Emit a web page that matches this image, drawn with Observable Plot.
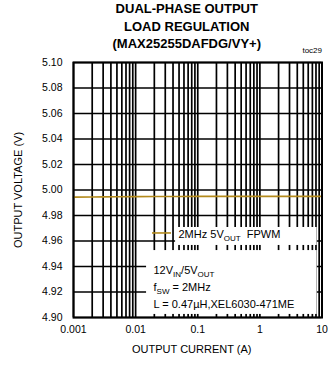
<!DOCTYPE html>
<html>
<head>
<meta charset="utf-8">
<script src="https://cdn.jsdelivr.net/npm/d3@7"></script>
<script src="https://cdn.jsdelivr.net/npm/@observablehq/plot@0.6"></script>
<style>
  html, body { margin: 0; padding: 0; background: #fff; }
  #chart svg { display: block; }
</style>
</head>
<body>
<div id="chart"></div>
<script>
// ---- data ----
const titleLines = ["DUAL-PHASE OUTPUT", "LOAD REGULATION", "(MAX25255DAFDG/VY+)"];
const figureId = "toc29";
const xAxisTitle = "OUTPUT CURRENT (A)";
const yAxisTitle = "OUTPUT VOLTAGE (V)";
const xTickLabels = [0.001, 0.01, 0.1, 1, 10];
const yTickLabels = [4.90, 4.92, 4.94, 4.96, 4.98, 5.00, 5.02, 5.04, 5.06, 5.08, 5.10];
const currentA = [0.001, 0.002, 0.003, 0.005, 0.01, 0.02, 0.05, 0.1, 0.2, 0.5, 1, 2, 5, 10];
const voltageV = [4.9944, 4.9945, 4.9946, 4.9947, 4.9948, 4.9949, 4.9949, 4.9950, 4.9950, 4.9950, 4.9950, 4.9950, 4.9950, 4.9950];
const seriesName = "2MHz 5V_{OUT}\u00a0\u00a0FPWM";
const conditions = ["12V_{IN}/5V_{OUT}", "f_{SW} = 2MHz", "L = 0.47µH,XEL6030-471ME"];

const lineColor = "#b38a1c";
const font = "'Liberation Sans', Arial, Helvetica, sans-serif";

const series = currentA.map((x, i) => ({x, y: voltageV[i]}));
const xGrid = d3.scaleLog().domain([0.001, 10]).ticks();

// annotation boxes (white panels over the grid), in data units
const boxes = [
  {x1: 0.044, x2: 8.35, y1: 4.9565, y2: 4.9706},
  {x1: 0.015, x2: 8.35, y1: 4.9024, y2: 4.9525}
];
const swatch = [{x1: 0.0187, x2: 0.0378, y: 4.9663}];

const chart = Plot.plot({
  width: 328,
  height: 369,
  marginTop: 62,
  marginBottom: 52,
  marginLeft: 73,
  marginRight: 6.5,
  style: {fontFamily: font, fontSize: "10.5px", color: "#000", background: "#fff", overflow: "visible"},
  x: {type: "log", domain: [0.001, 10], ticks: xTickLabels, tickFormat: d => String(d), tickSize: 0, tickPadding: 8, label: null},
  y: {domain: [4.90, 5.10], ticks: yTickLabels, tickFormat: d3.format(".2f"), tickSize: 0, tickPadding: 11, label: null},
  marks: [
    Plot.ruleX(xGrid, {stroke: "#000", strokeWidth: 1.7}),
    Plot.ruleY(yTickLabels, {stroke: "#000", strokeWidth: 1.7}),
    Plot.line(series, {x: "x", y: "y", stroke: lineColor, strokeWidth: 1.6}),
    Plot.rect(boxes, {x1: "x1", x2: "x2", y1: "y1", y2: "y2", fill: "#fff"}),
    Plot.ruleY(swatch, {x1: "x1", x2: "x2", y: "y", stroke: lineColor, strokeWidth: 1.6}),
    Plot.frame({stroke: "#000", strokeWidth: 2}),
    Plot.text([seriesName], {text: d => d, frameAnchor: "top-left", dx: 105, dy: 172, textAnchor: "start", lineAnchor: "middle", fontSize: 11}),
    ...conditions.map((c, i) => Plot.text([c], {text: d => d, frameAnchor: "top-left", dx: 80, dy: 207.5 + 17 * i, textAnchor: "start", lineAnchor: "middle", fontSize: 11})),
    ...titleLines.map((t, i) => Plot.text([t], {text: d => d, frameAnchor: "top", dx: -11, dy: -53.3 + 17.5 * i, textAnchor: "middle", lineAnchor: "middle", fontSize: 13, fontWeight: "bold"})),
    Plot.text([figureId], {text: d => d, frameAnchor: "top-right", dx: 0, dy: -12, textAnchor: "end", lineAnchor: "middle", fontSize: 8}),
    Plot.text([xAxisTitle], {text: d => d, frameAnchor: "bottom", dx: -6, dy: 31.5, textAnchor: "middle", lineAnchor: "middle", fontSize: 11}),
    Plot.text([yAxisTitle], {text: d => d, frameAnchor: "left", dx: -55.5, dy: 0, rotate: -90, textAnchor: "middle", lineAnchor: "middle", fontSize: 11})
  ]
});

// build subscripts (e.g. V_OUT) as real tspans
function subscriptify(svg) {
  d3.select(svg).selectAll("text").each(function () {
    const t = this.textContent;
    if (!t.includes("_{")) return;
    const sel = d3.select(this);
    sel.text(null);
    const parts = t.split(/(_\{[^}]*\})/).filter(p => p.length);
    let shifted = false;
    parts.forEach(p => {
      if (p.startsWith("_{")) {
        sel.append("tspan").attr("dy", 3).attr("font-size", "8px").text(p.slice(2, -1));
        shifted = true;
      } else {
        const ts = sel.append("tspan").text(p);
        if (shifted) { ts.attr("dy", -3); shifted = false; }
      }
    });
  });
}
subscriptify(chart);
document.getElementById("chart").appendChild(chart);
</script>
</body>
</html>
